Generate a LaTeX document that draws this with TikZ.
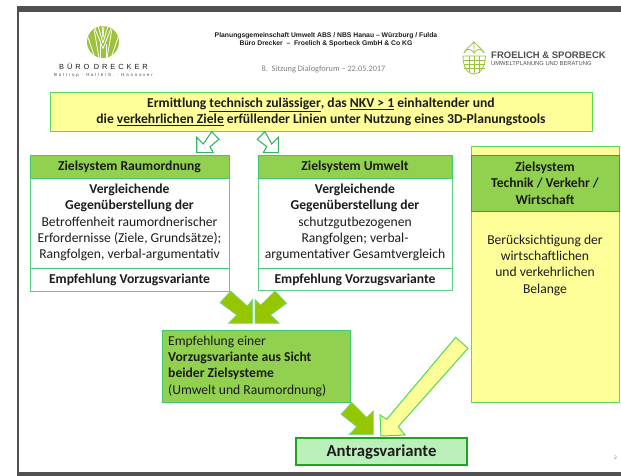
\documentclass[tikz,border=0pt]{standalone}
\usepackage{fontspec}
\setmainfont{Carlito}
\newfontfamily\logofont{Liberation Sans}
\newfontfamily\logospaced[LetterSpace=40]{Liberation Sans}
\definecolor{headgreen}{HTML}{92D050}
\definecolor{arrowgreen}{HTML}{95C600}
\definecolor{linegreen}{HTML}{3CC86E}
\definecolor{brightgreen}{HTML}{22D022}
\definecolor{paleyellow}{HTML}{FFFF99}
\definecolor{palegreen}{HTML}{BBF0BB}
\definecolor{framegray}{HTML}{505050}
\definecolor{treegreen}{HTML}{9CC23C}
\definecolor{inkgray}{HTML}{1C1C1C}
\tikzset{
	boxtext/.style={align=center, text=inkgray, font=\fontsize{13.6}{16.3}\selectfont, inner sep=0pt},
	boldtext/.style={boxtext, font=\bfseries\fontsize{13.6}{16.3}\selectfont},
	yellowbox/.style={draw=brightgreen!75!white, line width=1pt, fill=paleyellow},
	headbox/.style={draw=linegreen, line width=0.9pt, fill=headgreen},
	whitebox/.style={draw=linegreen!85!white, line width=0.9pt, fill=white},
	hollowarrow/.style={draw=linegreen!90!black, line width=1.1pt, fill=white, line join=miter},
	greenarrow/.style={draw=linegreen!70!white, line width=0.7pt, fill=arrowgreen},
}
\begin{document}
\begin{tikzpicture}[x=1pt, y=-1pt]
		%%%%% FRAME %%%%%
		\useasboundingbox (0, 0) rectangle (621, 476);
		\fill[white] (0, 0) rectangle (621, 476);
		\fill[framegray] (17, 6) rectangle (621, 12);
		\fill[framegray] (17, 6) rectangle (19, 476);
		\fill[framegray] (17, 472) rectangle (621, 476);
		
		%%%%% LOGOS %%%%%
		\fill[treegreen] (103, 42) circle (16);
		\begin{scope}
			\clip (103, 42) circle (16);
			\foreach \dx in {-12, -8, -4, 4, 8, 12} {
				\draw[white, line width=0.8pt] (103+\dx, 58) -- (103+\dx*2.2, 30);
			}
			\foreach \dx in {-9, -5, -1} {
				\draw[white, line width=0.8pt] (103+\dx, 26) -- (103, 26-\dx*1.4+10);
				\draw[white, line width=0.8pt] (103-\dx, 26) -- (103, 26-\dx*1.4+10);
			}
			\draw[white, line width=0.8pt] (100, 58) -- (100, 44) (106, 58) -- (106, 44);
		\end{scope}
		\node[inner sep=0pt, text=inkgray, font=\logospaced\fontsize{7.4}{9}\selectfont] (drecker) at (103.5, 66.5) {BÜRO\hspace{0.6em}DRECKER};
		\node[inner sep=0pt, text=inkgray!80, font=\logospaced\fontsize{4.4}{5}\selectfont] (drecker sub) at (103.5, 75) {Bottrop · Halle/S. · Hannover};
		
		\draw[treegreen, line width=0.8pt] (474, 42) -- (474, 53) (474, 42) .. controls (469, 47) and (466, 49) .. (464, 53);
		\draw[treegreen, line width=0.8pt] (474, 42) .. controls (479, 47) and (482, 49) .. (484, 53);
		\draw[treegreen, line width=0.8pt] (464, 53) .. controls (466, 48) and (471, 48) .. (474, 53) .. controls (477, 48) and (482, 48) .. (484, 53);
		\draw[treegreen, line width=0.8pt] (463, 56) .. controls (463, 69) and (469, 74) .. (474, 74) .. controls (479, 74) and (485, 69) .. (485.5, 56) -- cycle;
		\foreach \yy in {60, 64, 68} {
			\draw[treegreen, line width=0.6pt] (464, \yy) -- (485, \yy);
		}
		\foreach \xx in {469, 474, 479} {
			\draw[treegreen, line width=0.6pt] (\xx, 56) -- (\xx, 73);
		}
		\node[anchor=west, inner sep=0pt, text=framegray, font=\logofont\bfseries\fontsize{9.5}{11}\selectfont] (froelich) at (491, 55) {FROELICH \& SPORBECK};
		\node[anchor=west, inner sep=0pt, text=framegray, font=\logofont\fontsize{5.8}{7}\selectfont] (froelich sub) at (491, 64) {UMWELTPLANUNG UND BERATUNG};
		
		%%%%% HEADER %%%%%
		\node[align=center, inner sep=0pt, text=inkgray, font=\logofont\bfseries\fontsize{6.8}{8.2}\selectfont] (title) at (326, 40) {Planungsgemeinschaft Umwelt ABS / NBS Hanau – Würzburg / Fulda\\Büro Drecker~~–~~Froelich \& Sporbeck GmbH \& Co KG};
		\node[inner sep=0pt, text=gray, font=\fontsize{8.3}{9}\selectfont] (meeting) at (323.5, 69.5) {8.~~Sitzung Dialogforum – 22.05.2017};
		
		%%%%% TOP BOX %%%%%
		\draw[yellowbox] (50, 93) rectangle (592, 131.5);
		\node[boldtext] (scope) at (321, 112) {Ermittlung \underline{technisch zulässiger}, das \underline{NKV > 1} einhaltender und\\die \underline{verkehrlichen Ziele} erfüllender Linien unter Nutzung eines 3D-Planungstools};
		
		\draw[hollowarrow] (196.7, 152.7) -- (196.7, 137.3) -- (203.3, 144) -- (211.7, 131.7) -- (219, 139.3) -- (210, 146.7) -- (213.3, 152.7) -- cycle;
		\draw[hollowarrow] (278.3, 152.7) -- (278.3, 137.3) -- (271.7, 144) -- (265, 131.7) -- (257.3, 139.3) -- (266.7, 146.7) -- (263.3, 152.7) -- cycle;
		
		%%%%% RAUMORDNUNG %%%%%
		\draw[whitebox] (30, 178) rectangle (229, 291);
		\draw[headbox] (30, 155) rectangle (229, 178);
		\draw[linegreen, line width=0.9pt] (30, 268) -- (229, 268);
		\node[boldtext] (raum head) at (129.5, 166.5) {Zielsystem Raumordnung};
		\node[boxtext] (raum text) at (129.5, 222.5) {\textbf{Vergleichende}\\\textbf{Gegenüberstellung der}\\Betroffenheit raumordnerischer\\Erfordernisse (Ziele, Grundsätze);\\Rangfolgen, verbal-argumentativ};
		\node[boldtext] (raum rec) at (129.5, 279.5) {Empfehlung Vorzugsvariante};
		
		%%%%% UMWELT %%%%%
		\draw[whitebox] (258, 178) rectangle (452, 290);
		\draw[headbox] (258, 155) rectangle (452, 178);
		\draw[linegreen, line width=0.9pt] (258, 268) -- (452, 268);
		\node[boldtext] (umwelt head) at (355, 166.5) {Zielsystem Umwelt};
		\node[boxtext] (umwelt text) at (355, 222.5) {\textbf{Vergleichende}\\\textbf{Gegenüberstellung der}\\schutzgutbezogenen\\Rangfolgen; verbal-\\argumentativer Gesamtvergleich};
		\node[boldtext] (umwelt rec) at (355, 279.5) {Empfehlung Vorzugsvariante};
		
		%%%%% TECHNIK %%%%%
		\draw[yellowbox] (471, 147) rectangle (619, 402);
		\draw[draw=linegreen!80!black, line width=0.6pt, fill=headgreen] (471, 155) rectangle (619, 211);
		\node[boldtext] (technik head) at (545, 183) {Zielsystem\\Technik / Verkehr /\\Wirtschaft};
		\node[boxtext] (technik text) at (545, 265) {Berücksichtigung der\\wirtschaftlichen\\und verkehrlichen\\Belange};
		
		%%%%% RESULT %%%%%
		\draw[greenarrow] (252.7, 323.3) -- (228.3, 323.3) -- (236.7, 315) -- (220, 302.7) -- (230.7, 291) -- (247.3, 306) -- (252.7, 299.3) -- cycle;
		\draw[greenarrow] (255, 323.3) -- (255, 299.3) -- (260.7, 305) -- (275, 291) -- (286.7, 303.3) -- (270.7, 315) -- (279.3, 323.3) -- cycle;
		
		\draw[headbox] (162, 330) rectangle (350, 402);
		\node[boxtext, anchor=west, align=left] (joint) at (168, 366) {Empfehlung einer\\\textbf{Vorzugsvariante aus Sicht}\\\textbf{beider Zielsysteme}\\(Umwelt und Raumordnung)};
		
		\draw[greenarrow] (373.3, 434.7) -- (349, 434.7) -- (356.7, 426.7) -- (341, 414.3) -- (351.7, 402.3) -- (366.7, 417.3) -- (373.3, 410.7) -- cycle;
		\draw[yellowbox, draw=brightgreen!80!white] (381, 436) -- (380, 415) -- (386.7, 419.3) -- (455.7, 337.3) -- (468, 348.3) -- (398.3, 426.7) -- (405, 435) -- cycle;
		
		\draw[draw=brightgreen!80!black, line width=1.6pt, fill=palegreen] (296, 438) rectangle (467, 465);
		\node[boxtext, font=\bfseries\fontsize{16.7}{18}\selectfont] (final) at (381.5, 452) {Antragsvariante};
		
		\node[inner sep=0pt, text=gray, font=\fontsize{5.5}{6}\selectfont] (page) at (615.5, 457.5) {2};
		%%%%% END %%%%%
	\end{tikzpicture}
\end{document}
